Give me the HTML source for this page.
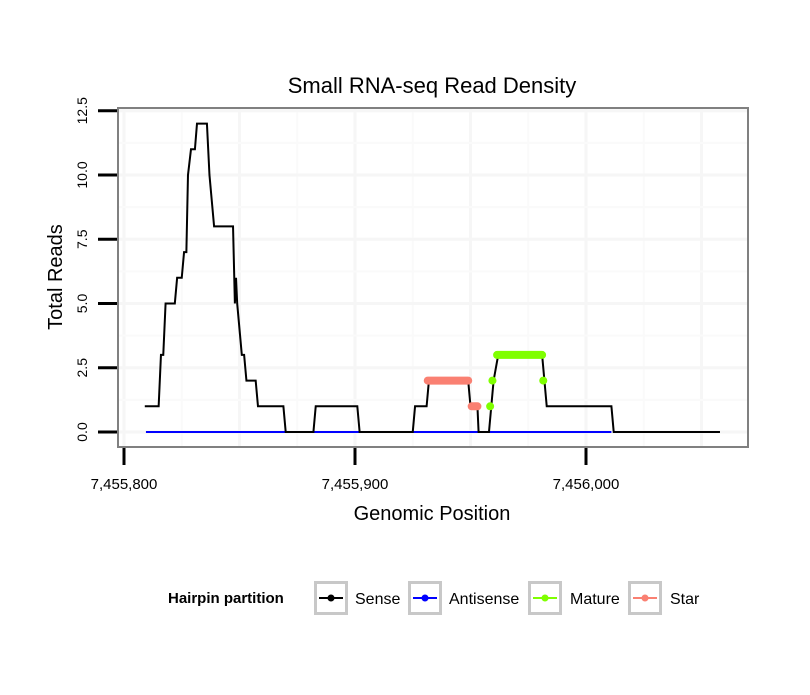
<!DOCTYPE html>
<html><head><meta charset="utf-8"><style>
body{margin:0;background:#fff;font-family:"Liberation Sans",sans-serif}
</style></head><body>
<svg id="c" width="810" height="690" xmlns="http://www.w3.org/2000/svg" font-family="Liberation Sans, sans-serif">
<text x="432" y="93" font-size="22" text-anchor="middle">Small RNA-seq Read Density</text>
<g id="grid"></g>
<rect x="118" y="108" width="630" height="339" fill="none" stroke="#808080" stroke-width="2"/>
<g id="marks"></g>
<g id="axes"></g>
<text x="432" y="520" font-size="20" text-anchor="middle">Genomic Position</text>
<text transform="translate(62,277) rotate(-90)" font-size="20" text-anchor="middle">Total Reads</text>
<g font-size="16">
<text x="168" y="603" font-weight="bold" font-size="15">Hairpin partition</text>
<g id="leg"></g>
</g>
</svg>
<script>
const xBase = 7455800;
const xTicks = [0, 100, 200];
const xTickLabels = ["7,455,800", "7,455,900", "7,456,000"];
const yTicks = [0, 2.5, 5, 7.5, 10, 12.5];
const yTickLabels = ["0.0", "2.5", "5.0", "7.5", "10.0", "12.5"];
const sensePos = [9,15,16,17,18,22,23,25,26,27,27.7,29,30.7,31.6,35.9,37,38,39,47.2,48,48.5,49,51,52,53,57,58,69,70,82,83,101,102,125,126,131,132,149,150,153,153.5,158,159,160,162,181,182,183,211,212,258];
const senseVal = [1,1,3,3,5,5,6,6,7,7,10,11,11,12,12,10,9,8,8,5,6,5,3,3,2,2,1,1,0,0,1,1,0,0,1,1,2,2,1,1,0,0,1,2,3,3,2,1,1,0,0];
const antisensePos = [9.5, 211];
const antisenseVal = [0, 0];
const starSegs = [[131.5,149,2],[150.5,153,1]];
const matureSegs = [[161.5,181,3]];
const matureDots = [[158.5,1],[159.5,2],[181.5,2]];
const legendItems = ["Sense","Antisense","Mature","Star"];
const legendColors = ["#000","#0000ff","#7fff00","#fa8072"];

const NS="http://www.w3.org/2000/svg";
const xs = v => 124 + v*2.31;
const ys = v => 432 - v*25.7;
function mk(tag, attrs, parent){const e=document.createElementNS(NS,tag);for(const k in attrs)e.setAttribute(k,attrs[k]);parent.appendChild(e);return e;}
const grid=document.getElementById('grid'), marks=document.getElementById('marks'), axes=document.getElementById('axes'), leg=document.getElementById('leg');
[-25,25,75,125,175,225].forEach(v=>{if(xs(v)>118&&xs(v)<748){const l=mk('line',{x1:xs(v),x2:xs(v),y1:109,y2:446,stroke:'#fafafa','stroke-width':2},grid);

}});
xTicks.concat([50,150,250]).forEach(v=>{const l=mk('line',{x1:xs(v),x2:xs(v),y1:109,y2:446,stroke:'#f6f6f6','stroke-width':3},grid);

});
[1.25,3.75,6.25,8.75,11.25].forEach(v=>{const l=mk('line',{x1:119,x2:747,y1:ys(v),y2:ys(v),stroke:'#fafafa','stroke-width':2},grid);

});
yTicks.forEach(v=>{const l=mk('line',{x1:119,x2:747,y1:ys(v),y2:ys(v),stroke:'#f6f6f6','stroke-width':3},grid);

});
xTicks.forEach((v,i)=>{const t=mk('line',{x1:xs(v),x2:xs(v),y1:448,y2:465,stroke:'#000','stroke-width':3},axes);


const tx=mk('text',{x:xs(v),y:489,'font-size':15,'text-anchor':'middle'},axes);tx.textContent=xTickLabels[i];

});
yTicks.forEach((v,i)=>{const t=mk('line',{x1:98,x2:117,y1:ys(v),y2:ys(v),stroke:'#000','stroke-width':3},axes);


const tx=mk('text',{transform:`translate(87,${ys(v)}) rotate(-90)`,'font-size':14,'text-anchor':'middle'},axes);tx.textContent=yTickLabels[i];

});
const a=mk('polyline',{points:antisensePos.map((p,i)=>xs(p)+','+ys(antisenseVal[i])).join(' '),fill:'none',stroke:'#0000ff','stroke-width':2},marks);


const s=mk('polyline',{points:sensePos.map((p,i)=>xs(p)+','+ys(senseVal[i])).join(' '),fill:'none',stroke:'#000','stroke-width':2},marks);


starSegs.forEach(g=>{const l=mk('line',{x1:xs(g[0]),x2:xs(g[1]),y1:ys(g[2]),y2:ys(g[2]),stroke:'#fa8072','stroke-width':8,'stroke-linecap':'round'},marks);

});
matureSegs.forEach(g=>{const l=mk('line',{x1:xs(g[0]),x2:xs(g[1]),y1:ys(g[2]),y2:ys(g[2]),stroke:'#7fff00','stroke-width':8,'stroke-linecap':'round'},marks);

});
matureDots.forEach(d=>{const c=mk('circle',{cx:xs(d[0]),cy:ys(d[1]),r:4,fill:'#7fff00'},marks);

});
const lx=[314,408,528,628], tx=[355,449,570,670];
legendItems.forEach((n,i)=>{const g=mk('g',{},leg);


mk('rect',{x:lx[i]+1.5,y:582.5,width:31,height:31,fill:'#fff',stroke:'#c8c8c8','stroke-width':3},g);
mk('line',{x1:lx[i]+5,x2:lx[i]+29,y1:598,y2:598,stroke:legendColors[i],'stroke-width':2},g);
mk('circle',{cx:lx[i]+17,cy:598,r:3.5,fill:legendColors[i]},g);
const t=mk('text',{x:tx[i],y:604,'font-size':16},g);t.textContent=n;});
</script>
</body></html>
